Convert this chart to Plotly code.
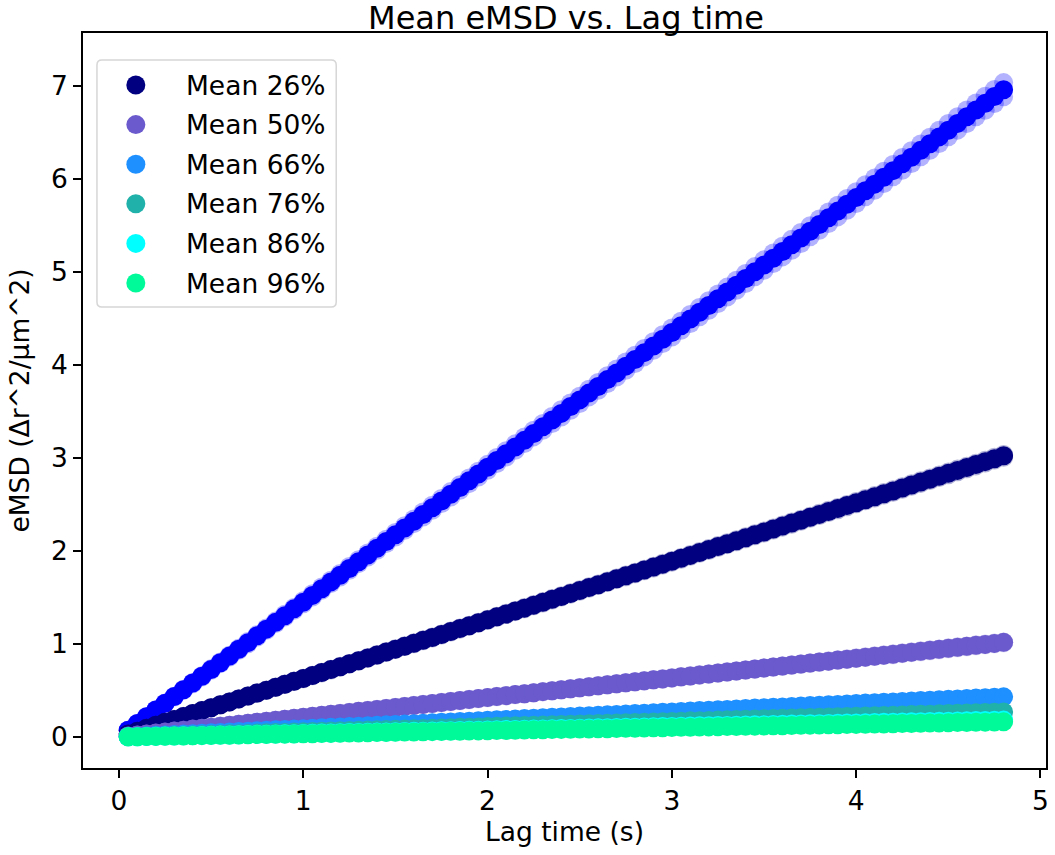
import plotly.graph_objects as go

# Lag times (s)
lag_time = [
    0.05, 0.10, 0.15, 0.20, 0.25, 0.30, 0.35, 0.40, 0.45, 0.50,
    0.55, 0.60, 0.65, 0.70, 0.75, 0.80, 0.85, 0.90, 0.95, 1.00,
    1.05, 1.10, 1.15, 1.20, 1.25, 1.30, 1.35, 1.40, 1.45, 1.50,
    1.55, 1.60, 1.65, 1.70, 1.75, 1.80, 1.85, 1.90, 1.95, 2.00,
    2.05, 2.10, 2.15, 2.20, 2.25, 2.30, 2.35, 2.40, 2.45, 2.50,
    2.55, 2.60, 2.65, 2.70, 2.75, 2.80, 2.85, 2.90, 2.95, 3.00,
    3.05, 3.10, 3.15, 3.20, 3.25, 3.30, 3.35, 3.40, 3.45, 3.50,
    3.55, 3.60, 3.65, 3.70, 3.75, 3.80, 3.85, 3.90, 3.95, 4.00,
    4.05, 4.10, 4.15, 4.20, 4.25, 4.30, 4.35, 4.40, 4.45, 4.50,
    4.55, 4.60, 4.65, 4.70, 4.75, 4.80,
]

# Mean eMSD curves (um^2)
emsd_blue = [
    0.073, 0.145, 0.218, 0.290, 0.363, 0.435, 0.508, 0.580, 0.653, 0.725,
    0.798, 0.870, 0.943, 1.015, 1.088, 1.160, 1.233, 1.305, 1.378, 1.450,
    1.523, 1.595, 1.668, 1.740, 1.813, 1.885, 1.958, 2.030, 2.103, 2.175,
    2.248, 2.320, 2.393, 2.465, 2.538, 2.610, 2.683, 2.755, 2.828, 2.900,
    2.973, 3.045, 3.118, 3.190, 3.263, 3.335, 3.408, 3.480, 3.553, 3.625,
    3.698, 3.770, 3.843, 3.915, 3.988, 4.060, 4.133, 4.205, 4.278, 4.350,
    4.423, 4.495, 4.568, 4.640, 4.713, 4.785, 4.858, 4.930, 5.003, 5.075,
    5.148, 5.220, 5.293, 5.365, 5.438, 5.510, 5.583, 5.655, 5.728, 5.800,
    5.873, 5.945, 6.018, 6.090, 6.163, 6.235, 6.308, 6.380, 6.453, 6.525,
    6.598, 6.670, 6.743, 6.815, 6.888, 6.960,
]
emsd_26 = [
    0.032, 0.063, 0.095, 0.126, 0.158, 0.189, 0.221, 0.252, 0.284, 0.315,
    0.347, 0.378, 0.410, 0.441, 0.473, 0.504, 0.536, 0.567, 0.599, 0.630,
    0.662, 0.693, 0.725, 0.756, 0.788, 0.819, 0.851, 0.882, 0.914, 0.945,
    0.977, 1.008, 1.040, 1.071, 1.103, 1.134, 1.166, 1.197, 1.229, 1.260,
    1.292, 1.323, 1.355, 1.386, 1.418, 1.449, 1.481, 1.512, 1.544, 1.575,
    1.607, 1.638, 1.670, 1.701, 1.733, 1.764, 1.796, 1.827, 1.859, 1.890,
    1.922, 1.953, 1.985, 2.016, 2.048, 2.079, 2.111, 2.142, 2.174, 2.205,
    2.237, 2.268, 2.300, 2.331, 2.363, 2.394, 2.426, 2.457, 2.489, 2.520,
    2.552, 2.583, 2.615, 2.646, 2.678, 2.709, 2.741, 2.772, 2.804, 2.835,
    2.867, 2.898, 2.930, 2.961, 2.993, 3.024,
]
emsd_50 = [
    0.011, 0.021, 0.032, 0.042, 0.053, 0.064, 0.074, 0.085, 0.095, 0.106,
    0.117, 0.127, 0.138, 0.148, 0.159, 0.170, 0.180, 0.191, 0.201, 0.212,
    0.223, 0.233, 0.244, 0.254, 0.265, 0.276, 0.286, 0.297, 0.307, 0.318,
    0.329, 0.339, 0.350, 0.360, 0.371, 0.382, 0.392, 0.403, 0.413, 0.424,
    0.435, 0.445, 0.456, 0.466, 0.477, 0.488, 0.498, 0.509, 0.519, 0.530,
    0.541, 0.551, 0.562, 0.572, 0.583, 0.594, 0.604, 0.615, 0.625, 0.636,
    0.647, 0.657, 0.668, 0.678, 0.689, 0.700, 0.710, 0.721, 0.731, 0.742,
    0.753, 0.763, 0.774, 0.784, 0.795, 0.806, 0.816, 0.827, 0.837, 0.848,
    0.859, 0.869, 0.880, 0.890, 0.901, 0.912, 0.922, 0.933, 0.943, 0.954,
    0.965, 0.975, 0.986, 0.996, 1.007, 1.018,
]
emsd_66 = [
    0.005, 0.009, 0.014, 0.018, 0.023, 0.027, 0.032, 0.036, 0.041, 0.045,
    0.050, 0.054, 0.059, 0.063, 0.068, 0.072, 0.077, 0.081, 0.086, 0.090,
    0.095, 0.099, 0.104, 0.108, 0.113, 0.117, 0.122, 0.126, 0.131, 0.135,
    0.140, 0.144, 0.149, 0.153, 0.158, 0.162, 0.167, 0.171, 0.176, 0.180,
    0.185, 0.189, 0.194, 0.198, 0.203, 0.207, 0.212, 0.216, 0.221, 0.225,
    0.230, 0.234, 0.239, 0.243, 0.248, 0.252, 0.257, 0.261, 0.266, 0.270,
    0.275, 0.279, 0.284, 0.288, 0.293, 0.297, 0.302, 0.306, 0.311, 0.315,
    0.320, 0.324, 0.329, 0.333, 0.338, 0.342, 0.347, 0.351, 0.356, 0.360,
    0.365, 0.369, 0.374, 0.378, 0.383, 0.387, 0.392, 0.396, 0.401, 0.405,
    0.410, 0.414, 0.419, 0.423, 0.428, 0.432,
]
emsd_76 = [
    0.003, 0.006, 0.008, 0.011, 0.014, 0.017, 0.020, 0.022, 0.025, 0.028,
    0.031, 0.034, 0.036, 0.039, 0.042, 0.045, 0.048, 0.050, 0.053, 0.056,
    0.059, 0.062, 0.064, 0.067, 0.070, 0.073, 0.076, 0.078, 0.081, 0.084,
    0.087, 0.090, 0.092, 0.095, 0.098, 0.101, 0.104, 0.106, 0.109, 0.112,
    0.115, 0.118, 0.120, 0.123, 0.126, 0.129, 0.132, 0.134, 0.137, 0.140,
    0.143, 0.146, 0.148, 0.151, 0.154, 0.157, 0.160, 0.162, 0.165, 0.168,
    0.171, 0.174, 0.176, 0.179, 0.182, 0.185, 0.188, 0.190, 0.193, 0.196,
    0.199, 0.202, 0.204, 0.207, 0.210, 0.213, 0.216, 0.218, 0.221, 0.224,
    0.227, 0.230, 0.232, 0.235, 0.238, 0.241, 0.244, 0.246, 0.249, 0.252,
    0.255, 0.258, 0.260, 0.263, 0.266, 0.269,
]
emsd_86 = [
    0.002, 0.004, 0.006, 0.008, 0.010, 0.011, 0.013, 0.015, 0.017, 0.019,
    0.021, 0.023, 0.025, 0.027, 0.029, 0.030, 0.032, 0.034, 0.036, 0.038,
    0.040, 0.042, 0.044, 0.046, 0.048, 0.049, 0.051, 0.053, 0.055, 0.057,
    0.059, 0.061, 0.063, 0.065, 0.067, 0.068, 0.070, 0.072, 0.074, 0.076,
    0.078, 0.080, 0.082, 0.084, 0.086, 0.087, 0.089, 0.091, 0.093, 0.095,
    0.097, 0.099, 0.101, 0.103, 0.105, 0.106, 0.108, 0.110, 0.112, 0.114,
    0.116, 0.118, 0.120, 0.122, 0.124, 0.125, 0.127, 0.129, 0.131, 0.133,
    0.135, 0.137, 0.139, 0.141, 0.143, 0.144, 0.146, 0.148, 0.150, 0.152,
    0.154, 0.156, 0.158, 0.160, 0.162, 0.163, 0.165, 0.167, 0.169, 0.171,
    0.173, 0.175, 0.177, 0.179, 0.181, 0.182,
]
emsd_96 = [
    0.002, 0.003, 0.005, 0.007, 0.009, 0.010, 0.012, 0.014, 0.015, 0.017,
    0.019, 0.020, 0.022, 0.024, 0.026, 0.027, 0.029, 0.031, 0.032, 0.034,
    0.036, 0.037, 0.039, 0.041, 0.043, 0.044, 0.046, 0.048, 0.049, 0.051,
    0.053, 0.054, 0.056, 0.058, 0.060, 0.061, 0.063, 0.065, 0.066, 0.068,
    0.070, 0.071, 0.073, 0.075, 0.077, 0.078, 0.080, 0.082, 0.083, 0.085,
    0.087, 0.088, 0.090, 0.092, 0.094, 0.095, 0.097, 0.099, 0.100, 0.102,
    0.104, 0.105, 0.107, 0.109, 0.111, 0.112, 0.114, 0.116, 0.117, 0.119,
    0.121, 0.122, 0.124, 0.126, 0.128, 0.129, 0.131, 0.133, 0.134, 0.136,
    0.138, 0.139, 0.141, 0.143, 0.145, 0.146, 0.148, 0.150, 0.151, 0.153,
    0.155, 0.156, 0.158, 0.160, 0.162, 0.163,
]

# Series styling and labels (the first curve carries no legend label)
series = [emsd_blue, emsd_26, emsd_50, emsd_66, emsd_76, emsd_86, emsd_96]
colors = ["#0000FF", "#000080", "#6A5ACD", "#1E90FF", "#20B2AA", "#00FFFF", "#00FA9A"]
labels = [None, "Mean 26%", "Mean 50%", "Mean 66%", "Mean 76%", "Mean 86%", "Mean 96%"]
# relative spread of the individual replicate curves around each mean
replicate_spread = [0.011, 0.005, 0.005, 0.0, 0.0, 0.0, 0.0]

FONT = "DejaVu Sans"
W, H = 1055, 855
L, R, T, B = 83, 6, 33, 87
MS = 19

fig = go.Figure()

for ys, col, spread in zip(series, colors, replicate_spread):
    if spread > 0:
        for sgn in (1, -1):
            fig.add_trace(go.Scatter(
                x=lag_time, y=[v * (1 + sgn * spread) for v in ys],
                mode="markers", showlegend=False, hoverinfo="skip",
                marker=dict(size=MS, color=col, opacity=0.3, line=dict(width=0)),
            ))
    fig.add_trace(go.Scatter(
        x=lag_time, y=ys, mode="markers", showlegend=False,
        marker=dict(size=MS, color=col, line=dict(width=0)),
    ))

# Legend drawn in pixel space over the axes
pw, ph = W - L - R, H - T - B


def px(x):
    return (x - L) / pw


def py(y):
    return (H - B - y) / ph


box_l, box_r, box_t, box_b, rad = 97, 337, 60, 307, 5
shapes = [dict(
    type="path", xref="paper", yref="paper",
    path=(f"M {px(box_l + rad)},{py(box_t)} L {px(box_r - rad)},{py(box_t)} "
          f"Q {px(box_r)},{py(box_t)} {px(box_r)},{py(box_t + rad)} "
          f"L {px(box_r)},{py(box_b - rad)} Q {px(box_r)},{py(box_b)} {px(box_r - rad)},{py(box_b)} "
          f"L {px(box_l + rad)},{py(box_b)} Q {px(box_l)},{py(box_b)} {px(box_l)},{py(box_b - rad)} "
          f"L {px(box_l)},{py(box_t + rad)} Q {px(box_l)},{py(box_t)} {px(box_l + rad)},{py(box_t)} Z"),
    fillcolor="rgba(255,255,255,0.8)", line=dict(color="#d6d6d6", width=1.5),
)]
annotations = []
row_y0, row_dy = 85, 39.6
legend_items = [(lab, col) for lab, col in zip(labels, colors) if lab]
for i, (lab, col) in enumerate(legend_items):
    cy = row_y0 + i * row_dy
    shapes.append(dict(
        type="circle", xref="paper", yref="paper",
        xsizemode="pixel", ysizemode="pixel",
        xanchor=px(136), yanchor=py(cy),
        x0=-MS / 2, x1=MS / 2, y0=-MS / 2, y1=MS / 2,
        fillcolor=col, line=dict(width=0),
    ))
    annotations.append(dict(
        text=lab, xref="paper", yref="paper", x=px(184), y=py(cy),
        xanchor="left", yanchor="middle", showarrow=False,
        font=dict(family=FONT, size=26.5, color="black"),
    ))

axis_common = dict(
    showline=True, linecolor="black", linewidth=1.6, mirror=True,
    ticks="outside", ticklen=8, tickwidth=1.6, tickcolor="black",
    showgrid=False, zeroline=False,
    tickfont=dict(family=FONT, size=26.5, color="black"),
)

fig.update_layout(
    width=W, height=H,
    margin=dict(l=L, r=R, t=T, b=B),
    paper_bgcolor="white", plot_bgcolor="white",
    title=dict(text="Mean eMSD vs. Lag time", x=(L + pw / 2) / W, xanchor="center",
               y=1 - 18 / H, yanchor="middle",
               font=dict(family=FONT, size=32, color="black")),
    xaxis=dict(axis_common, range=[-0.195, 5.03], tickvals=[0, 1, 2, 3, 4, 5],
               title=dict(text="Lag time (s)", standoff=8,
                          font=dict(family=FONT, size=26.5, color="black"))),
    yaxis=dict(axis_common, range=[-0.333, 7.57], tickvals=[0, 1, 2, 3, 4, 5, 6, 7],
               title=dict(text="eMSD (Δr^2/μm^2)", standoff=14,
                          font=dict(family=FONT, size=26.5, color="black"))),
    shapes=shapes, annotations=annotations, showlegend=False,
)

fig.write_html("out.html")
